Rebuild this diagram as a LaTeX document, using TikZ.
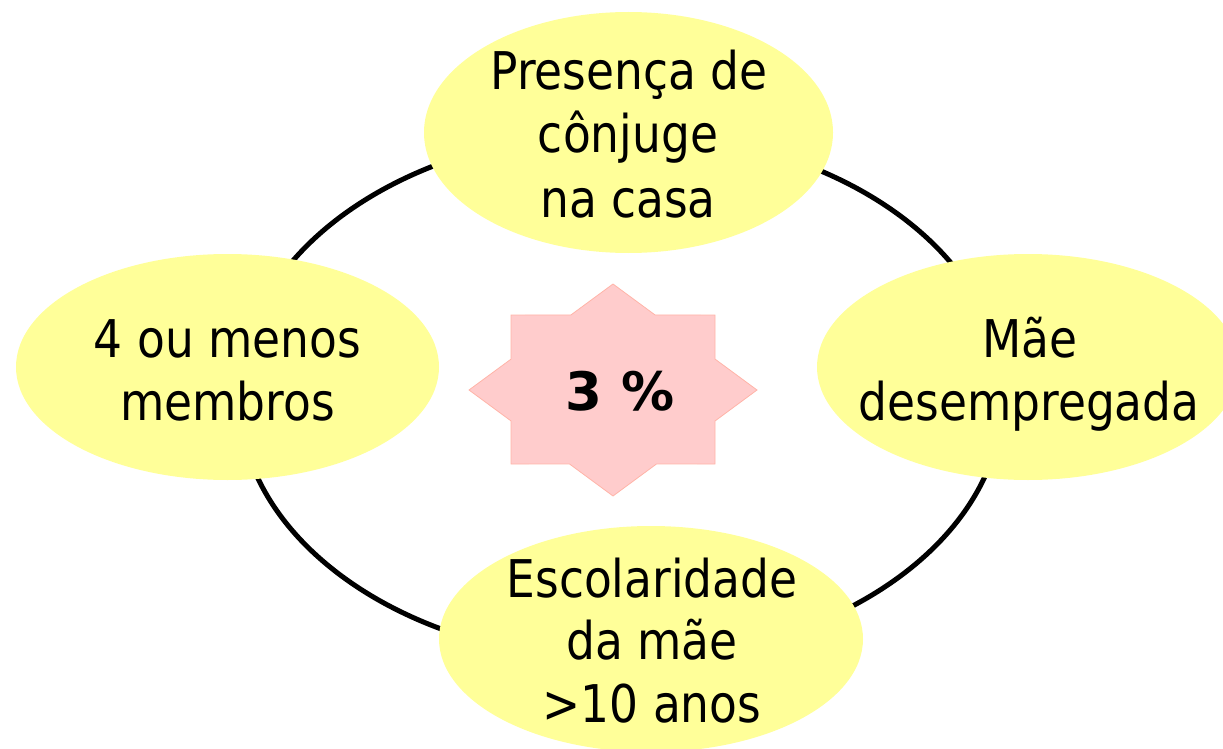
\documentclass[tikz,border=0pt]{standalone}
\usepackage{fontspec}
\setmainfont{DejaVu Sans}[FakeStretch=0.875]
\newfontfamily\starfont{DejaVu Sans}
\usetikzlibrary{shapes.geometric}
\definecolor{bubbleyellow}{HTML}{FFFF99}
\definecolor{starfill}{HTML}{FFCCCC}
\definecolor{starline}{HTML}{FFB4A8}
\begin{document}
\begin{tikzpicture}[x=1pt,y=-1pt,
  bubble/.style={ellipse, fill=bubbleyellow, inner sep=0pt},
  lbl/.style={anchor=base, inner sep=0pt, font=\fontsize{52}{62}\selectfont},
]
\useasboundingbox (0,0) rectangle (1223,749);
% ring
\node[ellipse, draw=black, line width=5pt, inner sep=0pt,
      minimum width=764pt, minimum height=528pt] (ring) at (621,396) {};
% bubbles
\node[bubble, minimum width=409pt, minimum height=241pt] (top) at (628.5,132.5) {};
\node[bubble, minimum width=423pt, minimum height=226pt] (left) at (227.5,367) {};
\node[bubble, minimum width=422pt, minimum height=226pt] (right) at (1028,367) {};
\node[bubble, minimum width=424pt, minimum height=226pt] (bottom) at (651,639) {};
% star
\coordinate (s1) at (511,315);
\coordinate (s2) at (715,315);
\coordinate (s3) at (715,464);
\coordinate (s4) at (511,464);
\coordinate (d1) at (613,284);
\coordinate (d2) at (757,390);
\coordinate (d3) at (613,496);
\coordinate (d4) at (469,390);
\draw[fill=starfill, draw=starline, line width=0.8pt, line join=miter]
  (d1) -- (intersection of d1--d2 and s1--s2) -- (s2)
  -- (intersection of d1--d2 and s2--s3) -- (d2)
  -- (intersection of d2--d3 and s2--s3) -- (s3)
  -- (intersection of d2--d3 and s3--s4) -- (d3)
  -- (intersection of d3--d4 and s3--s4) -- (s4)
  -- (intersection of d3--d4 and s4--s1) -- (d4)
  -- (intersection of d4--d1 and s4--s1) -- (s1)
  -- (intersection of d4--d1 and s1--s2) -- cycle;
\node[anchor=base, inner sep=0pt, font=\starfont\bfseries\fontsize{53}{62}\selectfont] (pct) at (620,410) {3 \%};
% labels
\node[lbl] (top1) at (629,90) {Presença de};
\node[lbl] (top2) at (628,153) {cônjuge};
\node[lbl] (top3) at (628,217) {na casa};
\node[lbl] (left1) at (227.5,357) {4 ou menos};
\node[lbl] (left2) at (227.5,420) {membros};
\node[lbl] (right1) at (1030,357) {Mãe};
\node[lbl] (right2) at (1029,420) {desempregada};
\node[lbl] (bot1) at (652,597) {Escolaridade};
\node[lbl] (bot2) at (652,659) {da mãe};
\node[lbl] (bot3) at (652,722) {>10 anos};
\end{tikzpicture}
\end{document}
